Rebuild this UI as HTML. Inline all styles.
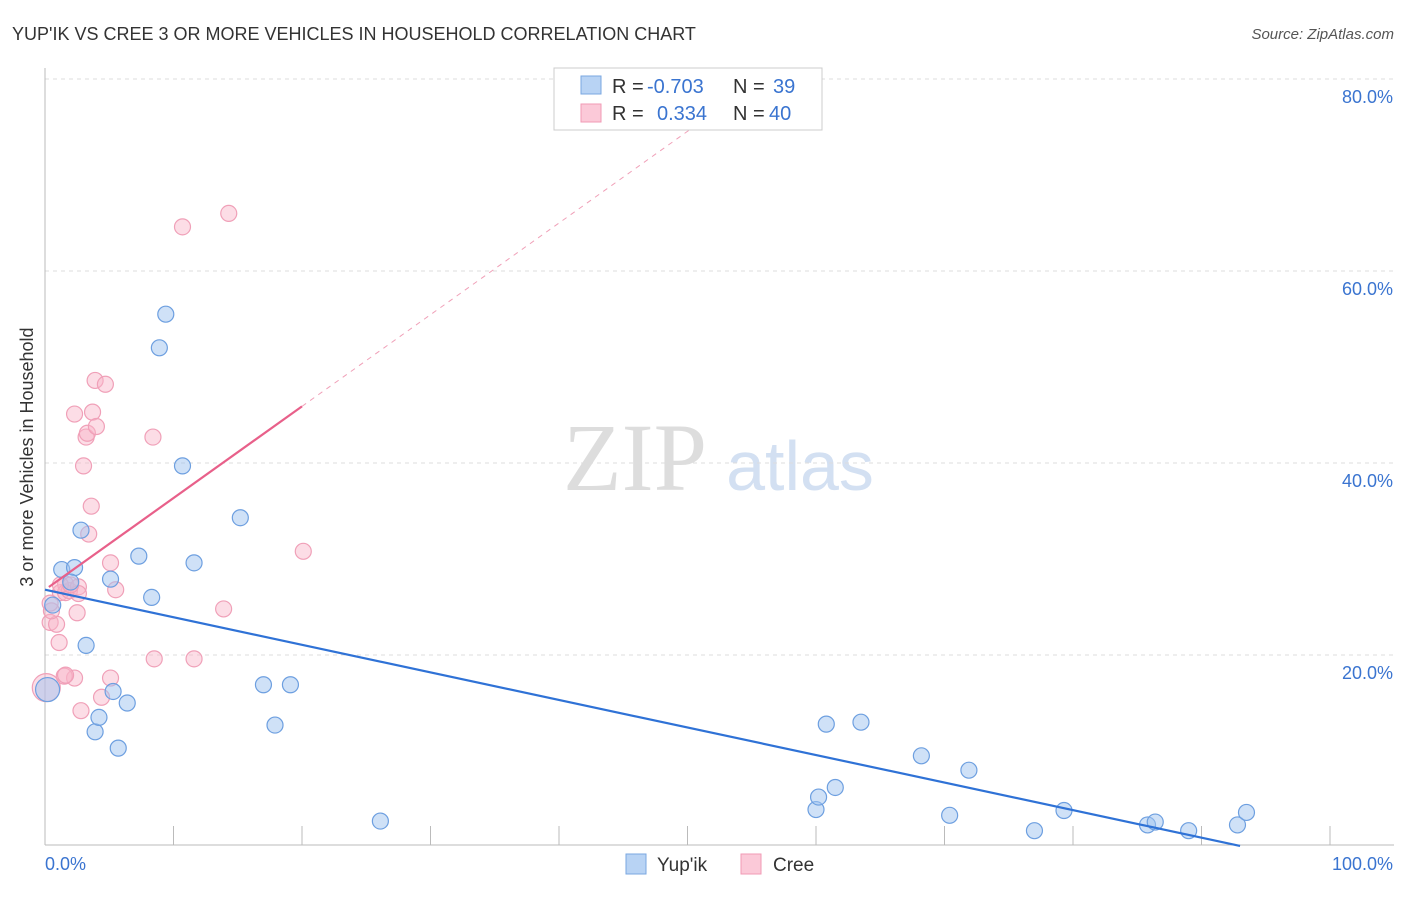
<!DOCTYPE html>
<html><head><meta charset="utf-8"><style>
body{margin:0;background:#fff;font-family:"Liberation Sans",sans-serif}
</style></head><body>
<svg id="c" width="1406" height="892" xmlns="http://www.w3.org/2000/svg">
<text x="12" y="40" font-size="18" fill="#333">YUP'IK VS CREE 3 OR MORE VEHICLES IN HOUSEHOLD CORRELATION CHART</text>
<text x="1394" y="39" font-size="15" fill="#555" font-style="italic" text-anchor="end">Source: ZipAtlas.com</text>
<text x="33" y="457" font-size="18" fill="#333" text-anchor="middle" transform="rotate(-90 33 457)">3 or more Vehicles in Household</text>
<g><text x="635" y="490" font-size="96" fill="#ddd" font-family="Liberation Serif" text-anchor="middle">ZIP</text><text x="800" y="490" font-size="70" fill="#d3e0f2" text-anchor="middle">atlas</text></g>
<g id="grid"></g><g id="marks"></g>
<g>
<rect x="554" y="68" width="268" height="62" fill="#fff" stroke="#ccc"/>
<rect x="581" y="76" width="20" height="18" fill="#b8d3f4" stroke="#7aa7e0"/>
<rect x="581" y="104" width="20" height="18" fill="#fbc9d8" stroke="#f09ab5"/>
<text x="612" y="93" font-size="20" fill="#333">R =</text>
<text x="647" y="93" font-size="20" fill="#3a74d0">-0.703</text>
<text x="733" y="93" font-size="20" fill="#333">N =</text>
<text x="773" y="93" font-size="20" fill="#3a74d0">39</text>
<text x="612" y="120" font-size="20" fill="#333">R =</text>
<text x="657" y="120" font-size="20" fill="#3a74d0">0.334</text>
<text x="733" y="120" font-size="20" fill="#333">N =</text>
<text x="769" y="120" font-size="20" fill="#3a74d0">40</text>
</g>
<g>
<rect x="626" y="854" width="20" height="20" fill="#b8d3f4" stroke="#7aa7e0"/><text x="657" y="871" font-size="19" fill="#333">Yup'ik</text>
<rect x="741" y="854" width="20" height="20" fill="#fbc9d8" stroke="#f09ab5"/><text x="773" y="871" font-size="19" fill="#333">Cree</text>
</g>
</svg>
<script>
const yTicks=[20,40,60,80];
const yTickLabels=["20.0%","40.0%","60.0%","80.0%"];
const blueX=[0.2,0.6,1.3,2.3,2.0,2.8,3.2,3.9,4.2,5.1,5.3,5.7,6.4,7.3,8.3,8.9,9.4,10.7,11.6,15.2,17.0,17.9,19.1,26.1,60.0,60.2,60.8,61.5,63.5,68.2,70.4,71.9,77.0,79.3,85.8,86.4,89.0,92.8,93.5];
const blueY=[16.4,25.2,28.9,29.1,27.6,33.0,21.0,12.0,13.5,27.9,16.2,10.3,15.0,30.3,26.0,52.0,55.5,39.7,29.6,34.3,16.9,12.7,16.9,2.7,3.9,5.2,12.8,6.2,13.0,9.5,3.3,8.0,1.7,3.8,2.3,2.6,1.7,2.3,3.6];
const pinkX=[0.1,0.4,0.9,0.5,1.1,1.2,1.6,1.6,1.9,2.3,2.3,2.5,2.6,2.6,2.8,3.0,3.2,3.3,3.4,3.6,3.7,4.0,3.9,4.4,4.7,5.1,5.1,5.5,8.4,8.5,10.7,11.6,13.9,14.3,20.1,1.5,0.4,1.2,2.0,1.6];
const pinkY=[16.6,23.4,23.2,24.6,21.3,26.5,27.4,26.5,26.7,45.1,17.6,24.4,27.1,26.4,14.2,39.7,42.7,43.1,32.6,35.5,45.3,43.8,48.6,15.6,48.2,17.6,29.6,26.8,42.7,19.6,64.6,19.6,24.8,66.0,30.8,17.8,25.4,27.3,27.3,17.9];
const NS="http://www.w3.org/2000/svg";
const X=v=>45+v*12.85, Y=v=>847-v*9.6;
function mk(t,a,p){const e=document.createElementNS(NS,t);for(const k in a)e.setAttribute(k,a[k]);p.appendChild(e);return e;}
const g=document.getElementById('grid'), m=document.getElementById('marks');
yTicks.forEach((t,i)=>{
 const l=mk('line',{x1:45,x2:1394,y1:Y(t),y2:Y(t),stroke:'#ddd','stroke-dasharray':'4,4'},g);
 
 
 const tx=mk('text',{x:1393,y:Y(t)+24,'font-size':18,fill:'#3a74d0','text-anchor':'end'},g);tx.textContent=yTickLabels[i];
 
 
});
let ax=mk('line',{x1:45,x2:1394,y1:845,y2:845,stroke:'#bbb'},g);


let ay=mk('line',{x1:45,x2:45,y1:68,y2:845,stroke:'#bbb'},g);


for(let i=0;i<=10;i++){const t=mk('line',{x1:X(i*10),x2:X(i*10),y1:826,y2:845,stroke:'#bbb'},g);
 
 }
[[0,"0.0%","start",45],[100,"100.0%","end",1393]].forEach(d=>{const t=mk('text',{x:d[3],y:870,'font-size':18,fill:'#3a74d0','text-anchor':d[2]},g);t.textContent=d[1];
 
 });
pinkX.forEach((v,i)=>{const c=mk('circle',{cx:X(v),cy:Y(pinkY[i]),r:i==0?14:8,fill:'rgba(248,180,200,0.45)',stroke:'#f0a0b8','stroke-width':1.2},m);
 
 });
blueX.forEach((v,i)=>{const c=mk('circle',{cx:X(v),cy:Y(blueY[i]),r:i==0?12:8,fill:'rgba(160,195,240,0.5)',stroke:'#6d9fe0','stroke-width':1.2},m);
 
 });
const pb=26.8, ps=0.955;
let pd=mk('line',{x1:X(20),y1:Y(pb+ps*20),x2:X(55.8),y2:Y(pb+ps*55.8),stroke:'#f0a0b8','stroke-dasharray':'5,5'},m);


let pl=mk('line',{x1:X(0.3),y1:Y(pb+ps*0.3),x2:X(20),y2:Y(pb+ps*20),stroke:'#e8608a','stroke-width':2.2},m);


const bb=26.8, bs=-0.287;
let bl=mk('line',{x1:X(0),y1:Y(bb),x2:X(93),y2:Y(bb+bs*93),stroke:'#2f72d6','stroke-width':2.2},m);


</script>
</body></html>
